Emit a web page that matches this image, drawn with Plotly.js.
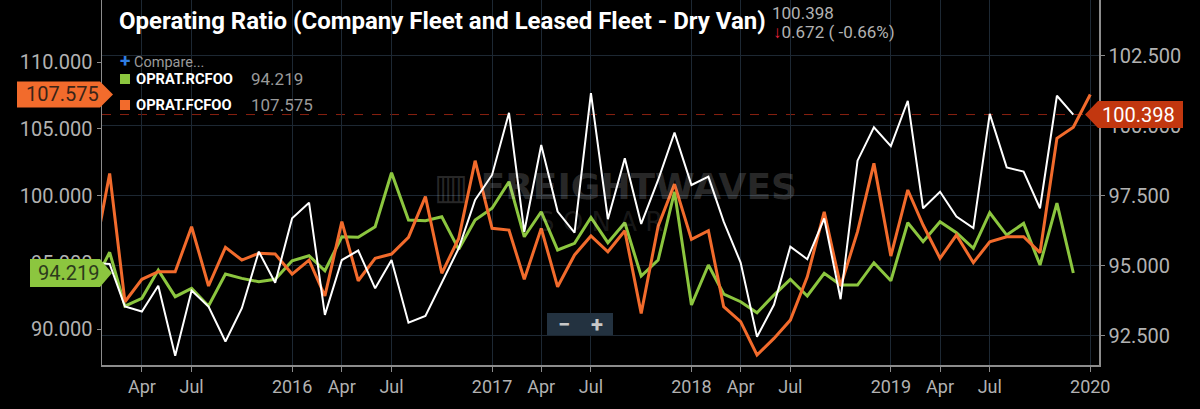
<!DOCTYPE html>
<html>
<head>
<meta charset="utf-8">
<script src="https://cdn.plot.ly/plotly-3.0.1.min.js"></script>
<style>html,body{margin:0;padding:0;background:#000;}#chart{width:1200px;height:409px;}</style>
</head>
<body>
<div id="chart"></div>
<script>
// ---- data ----
const months = [
 '2015-01','2015-02','2015-03','2015-04','2015-05','2015-06','2015-07','2015-08','2015-09','2015-10','2015-11','2015-12',
 '2016-01','2016-02','2016-03','2016-04','2016-05','2016-06','2016-07','2016-08','2016-09','2016-10','2016-11','2016-12',
 '2017-01','2017-02','2017-03','2017-04','2017-05','2017-06','2017-07','2017-08','2017-09','2017-10','2017-11','2017-12',
 '2018-01','2018-02','2018-03','2018-04','2018-05','2018-06','2018-07','2018-08','2018-09','2018-10','2018-11','2018-12',
 '2019-01','2019-02','2019-03','2019-04','2019-05','2019-06','2019-07','2019-08','2019-09','2019-10','2019-11','2019-12',
 '2020-01'
];
// OPRAT.FCFOO (left axis, orange)
const fcfoo = [
 94.9,101.67,92.07,93.75,94.32,94.32,97.68,93.25,96.14,95.19,95.69,95.64,
 94.14,95.19,92.5,98.06,93.64,95.32,95.64,96.89,99.93,94.2,96.81,102.62,
 97.56,97.43,93.75,97.56,93.19,95.57,96.99,95.81,97.38,91.2,97.73,100.87,
 96.74,97.38,91.7,90.58,88.09,89.33,90.7,93.94,98.8,93.25,97.31,102.42,
 95.49,100.43,97.81,95.32,97.06,94.99,96.56,96.93,96.93,95.74,104.29,105.12,
 107.575
];
// OPRAT.RCFOO (left axis, green)
const rcfoo = [
 93.3,95.77,91.75,92.33,94.44,92.45,93.07,91.75,94.14,93.82,93.57,93.75,
 95.14,95.51,94.39,96.93,96.89,97.68,101.72,98.18,98.13,98.43,95.99,98.18,
 99.06,101.05,96.93,98.8,95.94,96.44,98.38,96.49,97.98,93.99,95.19,100.3,
 91.83,94.82,92.65,92.07,91.25,92.57,93.75,92.5,94.2,93.32,93.32,94.99,
 93.64,97.98,96.56,98.06,97.24,96.07,98.73,97.06,97.93,94.82,99.45,94.219
];
// Operating Ratio Dry Van (right axis, white)
const dryVan = [
 95.1,95.06,93.54,93.36,94.28,91.78,94.11,93.54,92.29,93.48,95.5,94.39,
 96.69,97.25,93.24,95.2,95.54,94.19,95.2,92.96,93.2,94.37,95.62,97.35,
 98.24,100.46,96.21,99.31,96.93,96.18,101.16,96.66,98.84,96.49,98.06,99.75,
 97.88,98.18,96.57,95.11,92.46,93.6,95.68,95.23,96.69,93.8,98.75,99.94,
 99.27,100.89,97.05,97.64,96.75,96.34,100.42,98.51,98.36,97.05,101.07,100.398
];
const xTickVals = ['2015-01','2015-04','2015-07','2016-01','2016-04','2016-07','2017-01','2017-04','2017-07',
 '2018-01','2018-04','2018-07','2019-01','2019-04','2019-07','2020-01'];
const xTickText = ['Jan','Apr','Jul','2016','Apr','Jul','2017','Apr','Jul','2018','Apr','Jul','2019','Apr','Jul','2020'];
const leftTicks = [90,95,100,105,110];
const rightTicks = [92.5,95,97.5,100,102.5];
const titleText = 'Operating Ratio (Company Fleet and Leased Fleet - Dry Van)';
const nameGreen = 'OPRAT.RCFOO';
const nameOrange = 'OPRAT.FCFOO';

// ---- styles ----
const C_ORANGE = '#f26b2c', C_GREEN = '#8cc63f', C_WHITE = '#ffffff', C_RED = '#c2370f';
const GRID = '#1d2833', AXLINE = '#8c8c8c', TXT = '#b2b2b2';
const W = 1200, H = 409, ML = 102, MR = 101, MT = 0, MB = 44;
const PW = W - ML - MR, PH = H - MT - MB;
const px = v => (v - ML) / PW;            // pixel -> paper x
const py = v => (PH + MT - v) / PH;       // pixel -> paper y

const lastW = dryVan[dryVan.length - 1];
const prevW = dryVan[dryVan.length - 2];
const lastG = rcfoo[rcfoo.length - 1];
const lastO = fcfoo[fcfoo.length - 1];
const chg = lastW - prevW;
const pct = chg / prevW * 100;

const traces = [
 {x: months.slice(0, dryVan.length), y: dryVan, yaxis: 'y2', type: 'scatter', mode: 'lines',
  line: {color: C_WHITE, width: 2}, hoverinfo: 'skip', showlegend: false},
 {x: months.slice(0, rcfoo.length), y: rcfoo, type: 'scatter', mode: 'lines',
  line: {color: C_GREEN, width: 3}, hoverinfo: 'skip', showlegend: false, name: nameGreen},
 {x: months, y: fcfoo, type: 'scatter', mode: 'lines',
  line: {color: C_ORANGE, width: 3}, hoverinfo: 'skip', showlegend: false, name: nameOrange}
];

const tagL = 'M -85,-13 L -2,-13 L 11,0 L -2,13 L -85,13 Z';
const tagR = 'M -14,0 L -1,-13.5 L 84,-13.5 L 84,13.5 L -1,13.5 Z';

const layout = {
 width: W, height: H,
 paper_bgcolor: '#000', plot_bgcolor: '#000',
 margin: {l: ML, r: MR, t: MT, b: MB, pad: 0},
 font: {family: 'Roboto, sans-serif', color: TXT},
 showlegend: false,
 title: {text: '<b>' + titleText + '</b>', font: {family: 'Roboto', size: 24, color: '#ffffff'},
   xref: 'container', yref: 'container', x: 119 / W, xanchor: 'left', y: 1 - 21 / H, yanchor: 'middle'},
 xaxis: {type: 'date', range: ['2015-01-18', '2020-01-17'], tickvals: xTickVals, ticktext: xTickText,
   showgrid: true, gridcolor: GRID, gridwidth: 1, zeroline: false,
   showline: true, linecolor: AXLINE, linewidth: 1.5, ticks: 'outside', ticklen: 5, tickcolor: AXLINE,
   tickfont: {size: 18, color: TXT}, fixedrange: true},
 yaxis: {range: [87.34, 114.64], tickvals: leftTicks, tickformat: '.3f', showgrid: false, zeroline: false,
   showline: true, linecolor: AXLINE, linewidth: 1.5, ticks: 'outside', ticklen: 4, tickcolor: AXLINE,
   tickfont: {size: 20, color: TXT}, fixedrange: true},
 yaxis2: {range: [91.45, 104.49], tickvals: rightTicks, tickformat: '.3f', overlaying: 'y', side: 'right',
   showgrid: true, gridcolor: GRID, gridwidth: 1, zeroline: false,
   showline: true, linecolor: AXLINE, linewidth: 1.5, ticks: 'outside', ticklen: 4, tickcolor: AXLINE,
   tickfont: {size: 20, color: TXT}, fixedrange: true},
 shapes: [
  // last-price dashed line of the main series
  {type: 'line', xref: 'paper', yref: 'y2', x0: 0, x1: 1, y0: lastW, y1: lastW, layer: 'below',
   line: {color: '#8a2010', width: 1, dash: 'dash'}},
  // legend colour squares
  {type: 'rect', xref: 'paper', yref: 'paper', x0: px(120), x1: px(130), y0: py(84), y1: py(74),
   fillcolor: C_GREEN, line: {width: 0}},
  {type: 'rect', xref: 'paper', yref: 'paper', x0: px(120), x1: px(130), y0: py(110), y1: py(100),
   fillcolor: C_ORANGE, line: {width: 0}},
  // zoom buttons box
  {type: 'rect', xref: 'paper', yref: 'paper', x0: px(547), x1: px(613), y0: py(335), y1: py(313),
   fillcolor: '#233240', line: {width: 0}, layer: 'above'},
  // value tags
  {type: 'path', xref: 'paper', yref: 'y', xsizemode: 'pixel', ysizemode: 'pixel', xanchor: 0, yanchor: lastO,
   path: tagL, fillcolor: C_ORANGE, line: {width: 0}, layer: 'above'},
  {type: 'path', xref: 'paper', yref: 'y', xsizemode: 'pixel', ysizemode: 'pixel', xanchor: 0, yanchor: lastG,
   path: 'M -72,-14 L -2,-14 L 10,0 L -2,14 L -72,14 Z', fillcolor: C_GREEN, line: {width: 0}, layer: 'above'},
  {type: 'path', xref: 'paper', yref: 'y2', xsizemode: 'pixel', ysizemode: 'pixel', xanchor: 1, yanchor: lastW,
   path: tagR, fillcolor: C_RED, line: {width: 0}, layer: 'above'}
 ],
 annotations: [
  // watermark
  {xref: 'paper', yref: 'paper', x: px(615), y: py(186), yanchor: 'middle', text: '<b>▥ FREIGHTWAVES</b>', showarrow: false,
   font: {family: 'DejaVu Sans', size: 36, color: 'rgba(255,255,255,0.17)'}},
  {xref: 'paper', yref: 'paper', x: px(600), y: py(222), yanchor: 'middle', text: 'S O N A R', showarrow: false,
   font: {family: 'DejaVu Sans', size: 26, color: 'rgba(255,255,255,0.10)'}},
  // header values
  {xref: 'paper', yref: 'paper', x: px(770), y: py(13), xanchor: 'left', yanchor: 'middle',
   text: lastW.toFixed(3), showarrow: false, font: {size: 17, color: TXT}},
  {xref: 'paper', yref: 'paper', x: px(771), y: py(32), xanchor: 'left', yanchor: 'middle',
   text: '<span style="color:#e8203a"><b>' + (chg < 0 ? '↓' : '↑') + '</b></span>' + Math.abs(chg).toFixed(3) +
         ' ( ' + pct.toFixed(2) + '%)', showarrow: false, font: {size: 17, color: TXT}},
  // legend
  {xref: 'paper', yref: 'paper', x: px(118), y: py(61), xanchor: 'left', yanchor: 'middle',
   text: '<span style="color:#2f7de1;font-size:19px"><b>+</b></span> Compare...', showarrow: false,
   font: {size: 14.5, color: '#9a9a9a'}},
  {xref: 'paper', yref: 'paper', x: px(134), y: py(79), xanchor: 'left', yanchor: 'middle',
   text: '<b>' + nameGreen + '</b>', showarrow: false, font: {family: 'Roboto', size: 14.7, color: '#ffffff'}},
  {xref: 'paper', yref: 'paper', x: px(249), y: py(79), xanchor: 'left', yanchor: 'middle',
   text: lastG.toFixed(3), showarrow: false, font: {size: 17, color: '#9a9a9a'}},
  {xref: 'paper', yref: 'paper', x: px(134), y: py(105), xanchor: 'left', yanchor: 'middle',
   text: '<b>' + nameOrange + '</b>', showarrow: false, font: {family: 'Roboto', size: 14.7, color: '#ffffff'}},
  {xref: 'paper', yref: 'paper', x: px(249), y: py(105), xanchor: 'left', yanchor: 'middle',
   text: lastO.toFixed(3), showarrow: false, font: {size: 17, color: '#9a9a9a'}},
  // zoom buttons
  {xref: 'paper', yref: 'paper', x: px(564), y: py(324), xanchor: 'center', yanchor: 'middle', text: '<b>−</b>', showarrow: false,
   font: {size: 22, color: '#c8c8c8'}},
  {xref: 'paper', yref: 'paper', x: px(597), y: py(324), xanchor: 'center', yanchor: 'middle', text: '<b>+</b>', showarrow: false,
   font: {size: 22, color: '#c8c8c8'}},
  // tag texts
  {xref: 'paper', yref: 'y', x: 0, y: lastO, xanchor: 'right', yanchor: 'middle', xshift: -1,
   text: lastO.toFixed(3), showarrow: false, font: {size: 20, color: '#3a2418'}},
  {xref: 'paper', yref: 'y', x: 0, y: lastG, xanchor: 'right', yanchor: 'middle', xshift: -1,
   text: lastG.toFixed(3), showarrow: false, font: {size: 20, color: '#2c3a1c'}},
  {xref: 'paper', yref: 'y2', x: 1, y: lastW, xanchor: 'left', yanchor: 'middle', xshift: 1,
   text: lastW.toFixed(3), showarrow: false, font: {size: 20, color: '#ffffff'}}
 ]
};

Plotly.newPlot('chart', traces, layout, {displayModeBar: false, staticPlot: true});
</script>
</body>
</html>
